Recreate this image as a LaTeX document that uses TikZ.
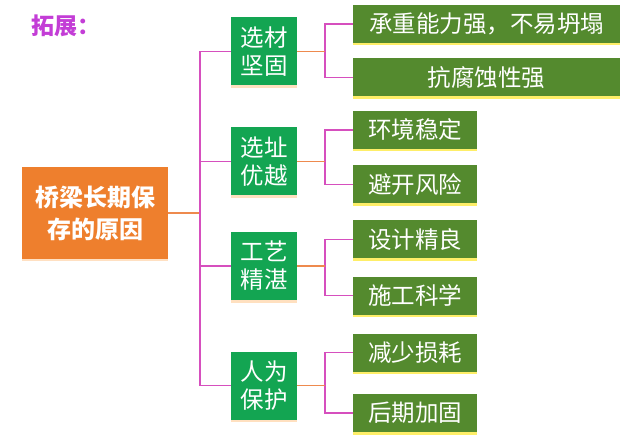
\documentclass[tikz,border=0pt]{standalone}
\usepackage{fontspec}
\setmainfont{Noto Sans CJK SC}
\usetikzlibrary{shadows}
\definecolor{rootc}{HTML}{EE7F2D}
\definecolor{lvtwo}{HTML}{13A552}
\definecolor{lvthree}{HTML}{548A2E}
\definecolor{pinkl}{HTML}{D64FBE}
\definecolor{orl}{HTML}{EE8A4E}
\definecolor{titlec}{HTML}{C33DD6}
\tikzset{
  rootbox/.style={fill=rootc, text=white, minimum width=146pt, minimum height=92pt, inner sep=0pt,
    font=\fontsize{24}{32}\selectfont\bfseries, align=center,
    drop shadow={shadow xshift=0pt, shadow yshift=-2pt, fill=orange!40, opacity=.6}},
  twobox/.style={fill=lvtwo, text=white, minimum width=66pt, minimum height=68pt, inner sep=0pt,
    font=\fontsize{23.5}{28}\selectfont, align=center,
    drop shadow={shadow xshift=0pt, shadow yshift=-2.5pt, fill=orange!45, opacity=.55}},
  threebox/.style={fill=lvthree, text=white, minimum height=38pt, inner sep=0pt,
    font=\fontsize{23.5}{26}\selectfont,
    drop shadow={shadow xshift=0pt, shadow yshift=-2.5pt, fill=yellow!85!orange, opacity=.6}},
  widebox/.style={threebox, minimum width=267pt},
  narrowbox/.style={threebox, minimum width=124pt},
  pinkline/.style={draw=pinkl, line width=1.3pt},
  oranline/.style={draw=orl, line width=1.3pt},
}
\begin{document}
\begin{tikzpicture}[x=1pt,y=-1pt]
\useasboundingbox (0,0) rectangle (626,446);
\node[text=titlec, font=\fontsize{23}{26}\selectfont\bfseries, anchor=west] (title) at (28,26) {拓展：};
\node[rootbox] (root) at (95,213) {桥梁长期保\\存的原因};
\node[twobox] (a) at (264,51.5) {选材\\坚固};
\node[twobox] (b) at (264,161.5) {选址\\优越};
\node[twobox] (c) at (264,266) {工艺\\精湛};
\node[twobox] (d) at (264,385.5) {人为\\保护};
\node[widebox] (a1) at (486.5,24) {承重能力强，不易坍塌};
\node[widebox] (a2) at (486.5,77.5) {抗腐蚀性强};
\node[narrowbox] (b1) at (415,130) {环境稳定};
\node[narrowbox] (b2) at (415,184.5) {避开风险};
\node[narrowbox] (c1) at (415,239.5) {设计精良};
\node[narrowbox] (c2) at (415,295.5) {施工科学};
\node[narrowbox] (d1) at (415,352.5) {减少损耗};
\node[narrowbox] (d2) at (415,413) {后期加固};
\coordinate (trunk) at (200,213);
\coordinate (ja) at (325,51.5);
\coordinate (jb) at (325,161.5);
\coordinate (jc) at (325,266);
\coordinate (jd) at (325,385.5);
\draw[oranline] (root.east) -- (trunk);
\foreach \n in {a,b,c,d} { \draw[pinkline] (trunk) |- (\n.west); }
\foreach \n in {a,b,c,d} {
  \draw[pinkline] (j\n) |- (\n1.west);
  \draw[pinkline] (j\n) |- (\n2.west);
  \draw[oranline] (\n.east) -- (j\n);
}
\end{tikzpicture}
\end{document}
